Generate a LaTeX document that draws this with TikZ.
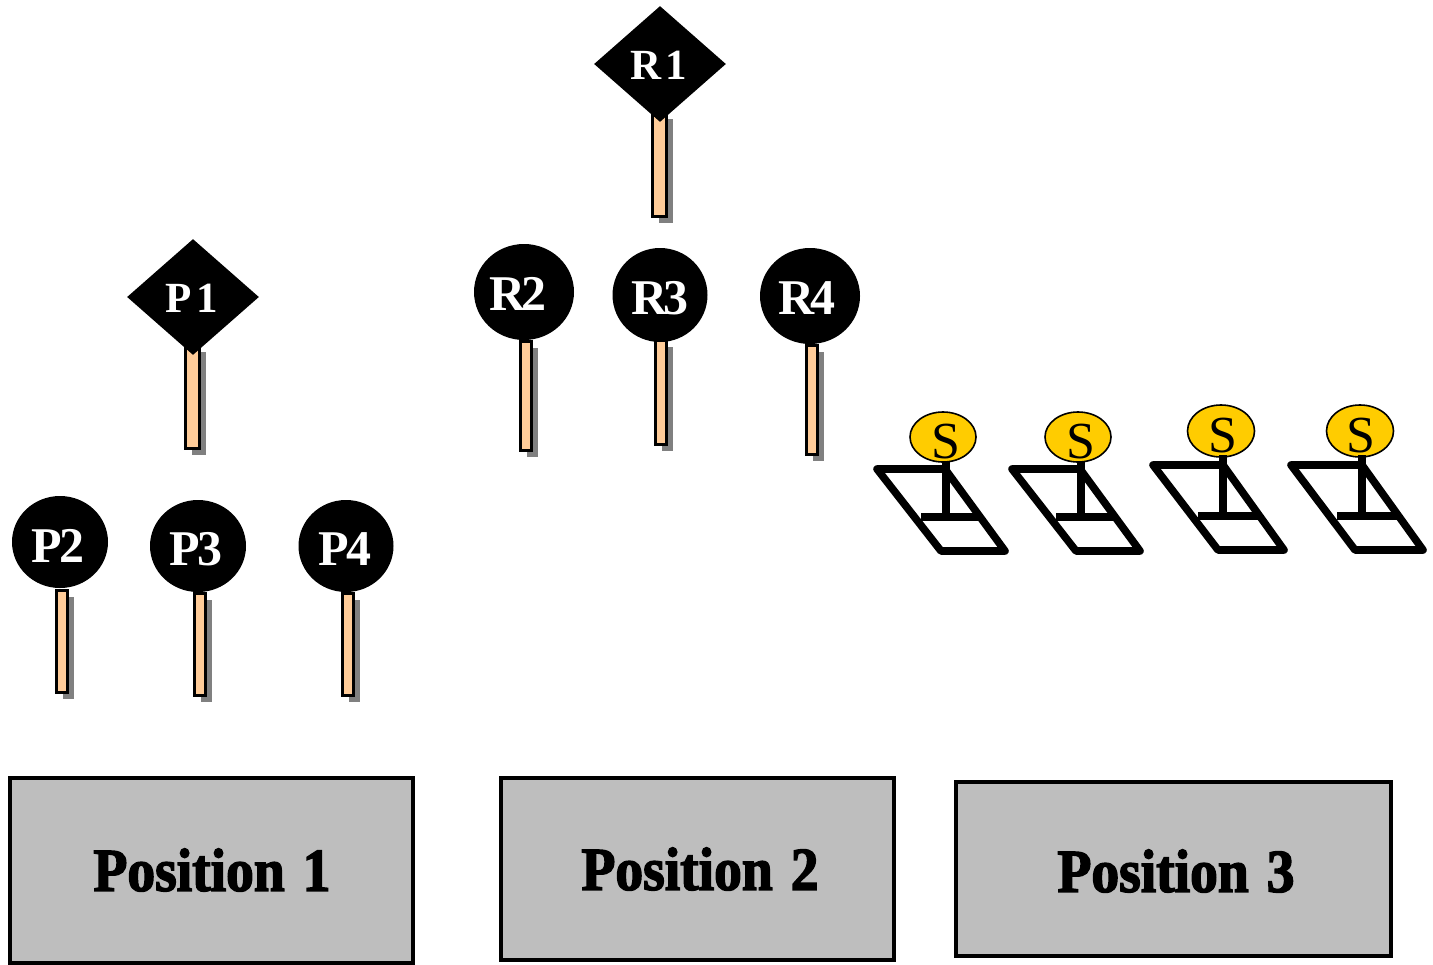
\documentclass[tikz,border=0pt]{standalone}
\usepackage{fontspec}
\setmainfont{Liberation Serif}
\newfontfamily\heavyfont[FakeBold=2.4,FakeStretch=0.91,WordSpace=1.3]{Liberation Serif Bold}
\usetikzlibrary{shapes.geometric,calc}
\definecolor{stemfill}{HTML}{FFCC99}
\definecolor{boxfill}{HTML}{BEBEBE}
\definecolor{shadowgrey}{HTML}{808080}
\definecolor{signfill}{HTML}{FFCC00}
\tikzset{
  stembar/.style={draw=black,line width=1.5pt,fill=stemfill},
  stemshadow/.style={fill=shadowgrey,draw=none},
  headround/.style={ellipse,fill=black,draw=none,inner sep=0pt},
  headtext/.style={inner sep=0pt,text=white,font=\fontsize{25}{25}\selectfont\bfseries},
  headdiamond/.style={diamond,fill=black,draw=none,inner sep=0pt,minimum width=66pt,minimum height=58pt,aspect=1.14},
  diamondtext/.style={inner sep=0pt,text=white,font=\fontsize{21.5}{21.5}\selectfont\bfseries},
  posbox/.style={draw=black,line width=2pt,fill=boxfill},
  poslabel/.style={font=\fontsize{30.5}{30.5}\heavyfont,inner sep=0pt},
  signhead/.style={ellipse,draw=black,line width=.8pt,fill=signfill,inner sep=0pt},
  signtext/.style={inner sep=0pt,font=\fontsize{26}{26}\selectfont},
  signline/.style={draw=black,line width=3.8pt,line cap=butt,line join=round},
}
% stem: left, right, top, bottom
\newcommand{\stemrect}[4]{%
  \fill[stemshadow] (#1+6.5,#3+6.5) rectangle (#2+6.5,#4+6.5);
  \draw[stembar] (#1,#3) rectangle (#2,#4);
}
% round head: name, cx, cy, rx(pt), ry(pt), label, label x, label y
\newcommand{\roundhead}[8]{%
  \node[headround,minimum width=#4pt,minimum height=#5pt] (#1) at (#2,#3) {};
  \node[headtext] (#1t) at (#7,#8) {#6};
}
% base: tl x, tr x, br x, bl x, top y, bottom y, bar left, bar right, bar y
\newcommand{\signbase}[9]{%
  \draw[signline] (#1,#5) -- (#2,#5) -- (#3,#6) -- (#4,#6) -- cycle;
  \draw[signline] (#7,#9) -- (#8,#9);
}
% head: name, cx, cy, rx(pt), ry(pt), S x, S y, stem x, stem bottom y
\newcommand{\signhead}[9]{%
  \node[signhead,minimum width=#4pt,minimum height=#5pt] (#1) at (#2,#3) {};
  \node[signtext] (#1t) at (#6,#7) {S};
  \draw[signline] (#8,#3+24) -- (#8,#9);
}
\begin{document}
\begin{tikzpicture}[x=0.5pt,y=-0.5pt]
\useasboundingbox (0,0) rectangle (1433,964);
\fill[white] (0,0) rectangle (1433,964);
% stems
\stemrect{185}{199}{345}{448}
\stemrect{652}{666}{112}{216}
\stemrect{56}{67}{590}{692.5}
\stemrect{194.5}{205.5}{593}{695.5}
\stemrect{342.5}{353.5}{593}{695.5}
\stemrect{520}{531}{341}{450.5}
\stemrect{655.5}{666.5}{340}{444}
\stemrect{806}{817}{345}{454}
% heads
\node[headdiamond] (p1) at (193,297) {};
\node[diamondtext] (p1t) at (192,298) {P\kern2.2pt 1};
\node[headdiamond] (r1) at (660,64) {};
\node[diamondtext] (r1t) at (659,65) {R\kern2.2pt 1};
\roundhead{p2}{60}{542}{48}{46}{P\kern-1.6pt 2}{58}{546}
\roundhead{p3}{198}{546}{48}{46}{P\kern-1.6pt 3}{196}{549}
\roundhead{p4}{346}{546}{47.5}{46}{P\kern-1.6pt 4}{345}{549}
\roundhead{r2}{524}{292}{50}{48}{R\kern-1.6pt 2}{518}{294}
\roundhead{r3}{660}{295}{47.5}{47}{R\kern-1.6pt 3}{660}{298}
\roundhead{r4}{810}{296}{50}{48}{R\kern-1.6pt 4}{807}{298}
% signs
\signbase{877}{945}{1005}{941}{469}{551}{921}{982}{517}
\signhead{s1}{943}{437}{33}{25}{946}{442}{946}{519}
\signbase{1012}{1080}{1140}{1076}{469}{551}{1056}{1117}{517}
\signhead{s2}{1078}{437}{33}{25}{1081}{442}{1081}{519}
\signbase{1153}{1223}{1284}{1218}{465}{550}{1198}{1260}{516}
\signhead{s3}{1221}{431}{33.5}{26}{1223}{436}{1223}{519}
\signbase{1291}{1362}{1423}{1355}{465}{550}{1337}{1398}{516}
\signhead{s4}{1360}{431}{33.5}{26}{1361}{436}{1362}{519}
% position boxes
\draw[posbox] (10,778) rectangle (413,963);
\draw[posbox] (501,778) rectangle (894,960);
\draw[posbox] (956,782) rectangle (1391,956);
\node[poslabel] (pos1) at (212,870) {Position 1};
\node[poslabel] (pos2) at (700,869) {Position 2};
\node[poslabel] (pos3) at (1176,871) {Position 3};
\end{tikzpicture}
\end{document}
